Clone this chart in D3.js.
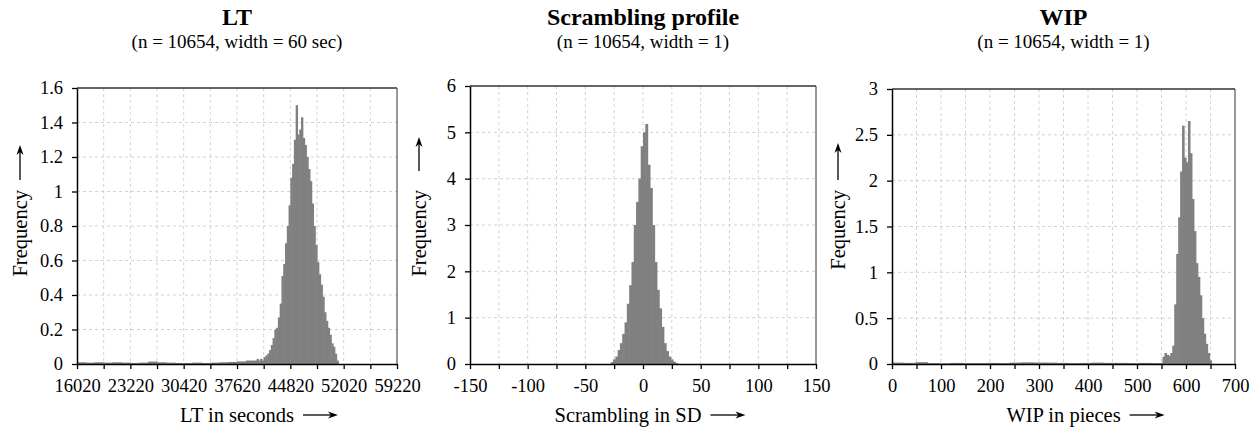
<!DOCTYPE html>
<html>
<head>
<meta charset="utf-8">
<script src="https://cdn.jsdelivr.net/npm/d3@7"></script>
<style>
  body { margin: 0; background: #fff; }
  svg text { font-family: "Liberation Serif", "Times New Roman", serif !important; }
</style>
</head>
<body>
<div id="chart-area"></div>
<script>
// ---- data ----
var titles = ["LT", "Scrambling profile", "WIP"];
var subtitles = ["(n = 10654, width = 60 sec)", "(n = 10654, width = 1)", "(n = 10654, width = 1)"];
var xTitles = ["LT in seconds", "Scrambling in SD", "WIP in pieces"];
var yTitles = ["Frequency", "Frequency", "Fequency"];

// LT histogram (long flat tail + main peak)
var ltTailStart = 16020, ltTailWidth = 1200;
var ltTailFreq = [0.01, 0.008, 0.01, 0.008, 0.01, 0.008, 0.006, 0.008, 0.014, 0.01,
                  0.008, 0.006, 0.006, 0.008, 0.006, 0.008, 0.01, 0.012, 0.015, 0.02];
var ltPeakStart = 40020, ltPeakWidth = 240;
var ltPeakFreq = [0.02, 0.03, 0.02, 0.03, 0.02, 0.04, 0.05, 0.06, 0.08, 0.11,
                  0.15, 0.20, 0.21, 0.27, 0.35, 0.51, 0.58, 0.70, 0.80, 0.92,
                  1.08, 1.16, 1.30, 1.50, 1.33, 1.36, 1.43, 1.31, 1.27, 1.20,
                  1.13, 1.06, 0.93, 0.80, 0.69, 0.59, 0.52, 0.46, 0.39, 0.30,
                  0.25, 0.21, 0.17, 0.12, 0.10, 0.06, 0.02];
var ltXLabels = [16020, 23220, 30420, 37620, 44820, 52020, 59220];
var ltXMinor = [19620, 26820, 34020, 41220, 48420, 55620];
var ltYTicks = [0, 0.2, 0.4, 0.6, 0.8, 1, 1.2, 1.4, 1.6];

// Scrambling histogram
var scrStart = -30, scrWidth = 2;
var scrFreq = [0.0, 0.04, 0.10, 0.16, 0.30, 0.45, 0.65, 0.90, 1.30, 1.70,
               2.20, 3.00, 3.50, 4.00, 4.70, 5.00, 5.18, 4.30, 3.80, 3.00,
               2.20, 1.60, 1.20, 0.80, 0.45, 0.28, 0.16, 0.10, 0.05, 0.02];
var scrXLabels = [-150, -100, -50, 0, 50, 100, 150];
var scrXMinor = [-125, -75, -25, 25, 75, 125];
var scrYTicks = [0, 1, 2, 3, 4, 5, 6];

// WIP histogram (flat tail + main peak)
var wipTailStart = 0, wipTailWidth = 24;
var wipTailFreq = [0.015, 0.012, 0.02, 0.01, 0.008, 0.012, 0.01, 0.01, 0.012, 0.01,
                   0.015, 0.018, 0.016, 0.015, 0.012, 0.01, 0.012, 0.015, 0.012, 0.012,
                   0.01, 0.012, 0.01];
var wipPeakStart = 552, wipPeakWidth = 4;
var wipPeakFreq = [0.08, 0.12, 0.10, 0.09, 0.12, 0.20, 0.65, 1.20, 1.60, 2.10,
                   2.60, 2.25, 2.20, 2.65, 2.30, 1.80, 1.45, 1.10, 0.95, 0.75,
                   0.50, 0.33, 0.22, 0.12, 0.04];
var wipXLabels = [0, 100, 200, 300, 400, 500, 600, 700];
var wipXMinor = [50, 150, 250, 350, 450, 550, 650];
var wipYTicks = [0, 0.5, 1, 1.5, 2, 2.5, 3];

// ---- layout ----
var W = 1260, H = 430;
var svg = d3.select("#chart-area").append("svg")
    .attr("width", W)
    .attr("height", H);

var panels = [
  { left: 77, right: 397, top: 88, bottom: 364, xDomain: [16020, 59220], yDomain: [0, 1.6],
    xLabels: ltXLabels, xMinor: ltXMinor, yTicks: ltYTicks, yLabelX: 27, arrowTop: 145, arrowBottom: 180, xShift: 0,
    segments: [{ start: ltTailStart, width: ltTailWidth, freq: ltTailFreq },
               { start: ltPeakStart, width: ltPeakWidth, freq: ltPeakFreq }] },
  { left: 470, right: 816, top: 86, bottom: 364, xDomain: [-150, 150], yDomain: [0, 6],
    xLabels: scrXLabels, xMinor: scrXMinor, yTicks: scrYTicks, yLabelX: 426, arrowTop: 137, arrowBottom: 171, xShift: -15,
    segments: [{ start: scrStart, width: scrWidth, freq: scrFreq }] },
  { left: 892, right: 1235, top: 89, bottom: 364, xDomain: [0, 700], yDomain: [0, 3],
    xLabels: wipXLabels, xMinor: wipXMinor, yTicks: wipYTicks, yLabelX: 845, arrowTop: 143, arrowBottom: 180, xShift: 0,
    segments: [{ start: wipTailStart, width: wipTailWidth, freq: wipTailFreq },
               { start: wipPeakStart, width: wipPeakWidth, freq: wipPeakFreq }] }
];

function arrow(g, x1, y1, x2, y2) {
  var dx = x2 - x1, dy = y2 - y1, len = Math.sqrt(dx * dx + dy * dy);
  var ux = dx / len, uy = dy / len;
  var hl = 10, hw = 3.5;
  g.append("line")
      .attr("x1", x1).attr("y1", y1)
      .attr("x2", x2 - ux * hl * 0.6).attr("y2", y2 - uy * hl * 0.6)
      .attr("stroke", "#000").attr("stroke-width", 1.3);
  var bx = x2 - ux * hl, by = y2 - uy * hl;
  g.append("path")
      .attr("d", "M" + x2 + "," + y2 +
                 "L" + (bx - uy * hw) + "," + (by + ux * hw) +
                 "L" + (x2 - ux * hl * 0.7) + "," + (y2 - uy * hl * 0.7) +
                 "L" + (bx + uy * hw) + "," + (by - ux * hw) + "Z")
      .attr("fill", "#000");
}

panels.forEach(function (p, k) {
  var x = d3.scaleLinear().domain(p.xDomain).range([p.left, p.right]);
  var y = d3.scaleLinear().domain(p.yDomain).range([p.bottom, p.top]);
  var g = svg.append("g");
  var allX = p.xLabels.concat(p.xMinor).sort(function (a, b) { return a - b; });

  // dashed grid
  g.append("g").selectAll("line")
    .data(allX.slice(1, -1))
    .join("line")
      .attr("x1", function (d) { return x(d); })
      .attr("x2", function (d) { return x(d); })
      .attr("y1", p.top).attr("y2", p.bottom)
      .attr("stroke", "#d2d2d2").attr("stroke-dasharray", "3,3");
  g.append("g").selectAll("line")
    .data(p.yTicks.slice(1, -1))
    .join("line")
      .attr("y1", function (d) { return y(d); })
      .attr("y2", function (d) { return y(d); })
      .attr("x1", p.left).attr("x2", p.right)
      .attr("stroke", "#d2d2d2").attr("stroke-dasharray", "3,3");

  // histogram bars (slightly overlapped so no seams show)
  p.segments.forEach(function (seg) {
    g.append("g").selectAll("rect")
      .data(seg.freq)
      .join("rect")
        .attr("x", function (d, i) { return x(seg.start + i * seg.width); })
        .attr("width", function (d, i) { return x(seg.start + (i + 1) * seg.width) - x(seg.start + i * seg.width) + 0.6; })
        .attr("y", function (d) { return y(d); })
        .attr("height", function (d) { return y(0) - y(d); })
        .attr("fill", "#808080");
  });

  // frame top / right
  g.append("line").attr("x1", p.left).attr("x2", p.right).attr("y1", p.top).attr("y2", p.top)
      .attr("stroke", "#333").attr("stroke-width", 1.5);
  g.append("line").attr("x1", p.right).attr("x2", p.right).attr("y1", p.top).attr("y2", p.bottom)
      .attr("stroke", "#333").attr("stroke-width", 1);

  // axes
  var xAxis = g.append("g")
      .attr("transform", "translate(0," + p.bottom + ")")
      .call(d3.axisBottom(x).tickValues(allX).tickSize(5).tickSizeOuter(0).tickPadding(10)
        .tickFormat(function (d) { return p.xLabels.indexOf(d) >= 0 ? d : ""; }));
  var yAxis = g.append("g")
      .attr("transform", "translate(" + p.left + ",0)")
      .call(d3.axisLeft(y).tickValues(p.yTicks).tickSize(5).tickSizeOuter(0).tickPadding(9)
        .tickFormat(function (d) { return String(d); }));
  [xAxis, yAxis].forEach(function (a) {
    a.attr("font-family", null).attr("font-size", 18.5);
    a.selectAll("path.domain").attr("stroke", "#000").attr("stroke-width", 1.5);
    a.selectAll(".tick line").attr("stroke", "#000").attr("stroke-width", 1.3);
    a.selectAll(".tick text").attr("fill", "#000");
  });

  var cx = (p.left + p.right) / 2;
  // titles
  g.append("text").attr("x", cx).attr("y", 25).attr("text-anchor", "middle")
      .attr("font-size", 24).attr("font-weight", "bold").text(titles[k]);
  g.append("text").attr("x", cx).attr("y", 48).attr("text-anchor", "middle")
      .attr("font-size", 19).text(subtitles[k]);

  // x title with arrow
  var xt = g.append("text").attr("x", cx + p.xShift).attr("y", 422).attr("text-anchor", "middle")
      .attr("font-size", 20.5).text(xTitles[k]);
  var bb = xt.node().getBBox();
  arrow(g, bb.x + bb.width + 9, 415, bb.x + bb.width + 44, 415);

  // y title with arrow
  g.append("text")
      .attr("transform", "translate(" + p.yLabelX + ",190) rotate(-90)")
      .attr("text-anchor", "end")
      .attr("font-size", 20.5).text(yTitles[k]);
  arrow(g, p.yLabelX - 7, p.arrowBottom, p.yLabelX - 7, p.arrowTop);
});
</script>
</body>
</html>
